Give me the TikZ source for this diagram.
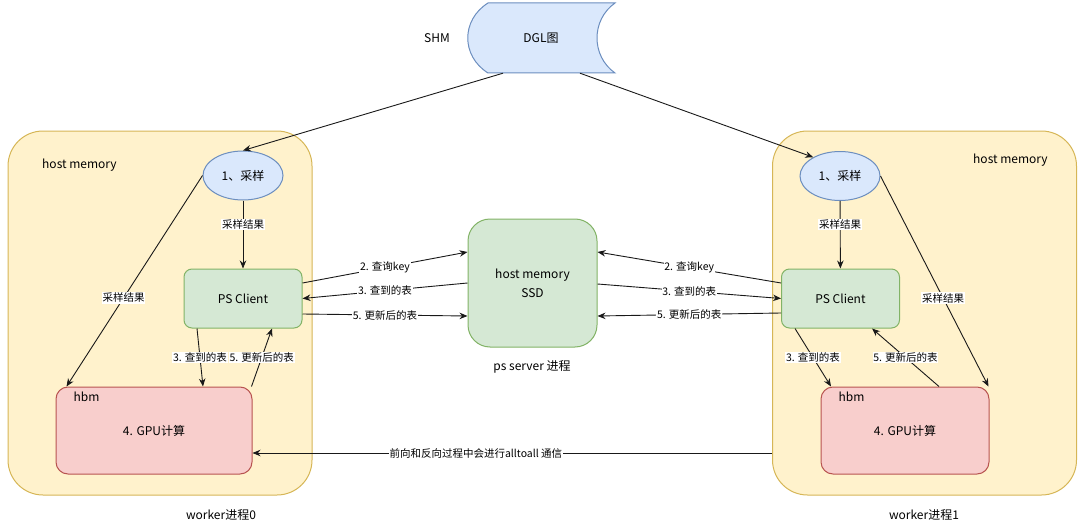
\documentclass[tikz,border=0pt]{standalone}
\usepackage{fontspec}
\setmainfont{Noto Sans CJK SC}
\usetikzlibrary{arrows.meta,positioning,shapes.geometric}
\definecolor{yellowfill}{HTML}{FFF2CC}
\definecolor{yellowline}{HTML}{D6B656}
\definecolor{bluefill}{HTML}{DAE8FC}
\definecolor{blueline}{HTML}{6C8EBF}
\definecolor{greenfill}{HTML}{D5E8D4}
\definecolor{greenline}{HTML}{82B366}
\definecolor{redfill}{HTML}{F8CECC}
\definecolor{redline}{HTML}{B85450}
\newcommand{\setfs}[1]{\fontsize{#1}{#1}\selectfont}
\tikzset{
  worker/.style={rectangle, rounded corners=35pt, draw=yellowline, fill=yellowfill,
                 line width=1pt, minimum width=304pt, minimum height=364pt},
  sample/.style={ellipse, draw=blueline, fill=bluefill, line width=1pt,
                 minimum width=80pt, minimum height=49pt, inner sep=0pt, font=\setfs{12}},
  client/.style={rectangle, rounded corners=8pt, draw=greenline, fill=greenfill, line width=1pt,
                 minimum width=118pt, minimum height=59pt, font=\setfs{12}},
  gpu/.style={rectangle, rounded corners=12pt, draw=redline, fill=redfill, line width=1pt,
              minimum height=87pt, font=\setfs{12}},
  server/.style={rectangle, rounded corners=22pt, draw=greenline, fill=greenfill, line width=1pt,
                 minimum width=129pt, minimum height=128pt, align=center,
                 font=\fontsize{12}{19}\selectfont},
  arrow/.style={-{Stealth[length=8pt, width=6.5pt]}, line width=0.9pt, draw=black!90},
  elabel/.style={fill=white, inner sep=0.8pt, font=\setfs{10.5}},
  plain/.style={font=\setfs{12}, inner sep=1pt},
}
\begin{document}
\begin{tikzpicture}[x=1pt, y=-1pt]
\useasboundingbox (0,0) rectangle (1080,527);
% worker processes
\node[worker] (w0) at (160,313) {};
\node[worker] (w1) at (924.5,313) {};
\node[plain, anchor=west] (hm0) at (41,165) {host memory};
\node[plain, anchor=west] (hm1) at (972,160) {host memory};
\node[plain] (wl0) at (221,515) {worker进程0};
\node[plain] (wl1) at (924,515) {worker进程1};
% DGL graph in shared memory
\draw[draw=blueline, fill=bluefill, line width=1pt]
  (488,3) -- (615,3) .. controls (591,20) and (591,56) .. (615,73)
  -- (488,73) .. controls (461,56) and (461,20) .. (488,3) -- cycle;
\node[plain, minimum width=137pt, minimum height=70pt, inner sep=0pt] (dgl) at (541,38) {DGL图};
\node[plain] (shm) at (437,38) {SHM};
% ps server
\node[server] (srv) at (532.5,283) {host memory\\SSD};
\node[plain] (srvl) at (532,367) {ps server 进程};
% nodes inside the workers
\node[sample] (s0) at (243,175.5) {1、采样};
\node[sample] (s1) at (840,176) {1、采样};
\node[client] (pc0) at (243,298.5) {PS Client};
\node[client] (pc1) at (840.5,298.5) {PS Client};
\node[gpu, minimum width=196pt] (g0) at (154,430.5) {4. GPU计算};
\node[gpu, minimum width=168pt] (g1) at (905,430.5) {4. GPU计算};
\node[plain, anchor=west] (hbm0) at ([xshift=17pt, yshift=-10pt]g0.north west) {hbm};
\node[plain, anchor=west] (hbm1) at ([xshift=17pt, yshift=-10pt]g1.north west) {hbm};
% sampling
\draw[arrow] ([xshift=-38pt]dgl.south) -- (s0.north);
\draw[arrow] ([xshift=39pt]dgl.south) -- (s1.145);
\draw[arrow] (s0) -- node[elabel, pos=0.35] {采样结果} (pc0);
\draw[arrow] (s1) -- node[elabel, pos=0.35] {采样结果} (pc1);
\draw[arrow] (s0.west) -- node[elabel, pos=0.58] {采样结果} ([xshift=11pt]g0.north west);
\draw[arrow] (s1.east) -- node[elabel, pos=0.58] {采样结果} ([xshift=-1pt]g1.north east);
% client <-> hbm
\draw[arrow] ([xshift=-46pt]pc0.south) -- node[elabel] {3. 查到的表} ([xshift=49pt]g0.north);
\draw[arrow] ([xshift=-1pt]g0.north east) -- node[elabel] {5. 更新后的表} ([xshift=29pt]pc0.south);
\draw[arrow] ([xshift=-45.5pt]pc1.south) -- node[elabel] {3. 查到的表} ([xshift=-74pt]g1.north);
\draw[arrow] ([xshift=34pt]g1.north) -- node[elabel] {5. 更新后的表} ([xshift=31.5pt]pc1.south);
% client <-> server
\draw[arrow] ([yshift=15.5pt]pc0.east) -- node[elabel] {2. 查询key} ([yshift=31pt]srv.west);
\draw[arrow] (srv.west) -- node[elabel] {3. 查到的表} (pc0.east);
\draw[arrow] ([yshift=-15.5pt]pc0.east) -- node[elabel] {5. 更新后的表} ([yshift=-33pt]srv.west);
\draw[arrow] ([yshift=15.5pt]pc1.west) -- node[elabel] {2. 查询key} ([yshift=31pt]srv.east);
\draw[arrow] ([yshift=-1pt]srv.east) -- node[elabel] {3. 查到的表} (pc1.west);
\draw[arrow] ([yshift=-14.5pt]pc1.west) -- node[elabel] {5. 更新后的表} ([yshift=-33pt]srv.east);
% alltoall between workers
\coordinate (a2a) at ([yshift=-22.5pt]g0.east);
\draw[arrow] (w1.west |- a2a) -- node[elabel, pos=0.57] {前向和反向过程中会进行alltoall 通信} (a2a);
\end{tikzpicture}
\end{document}
